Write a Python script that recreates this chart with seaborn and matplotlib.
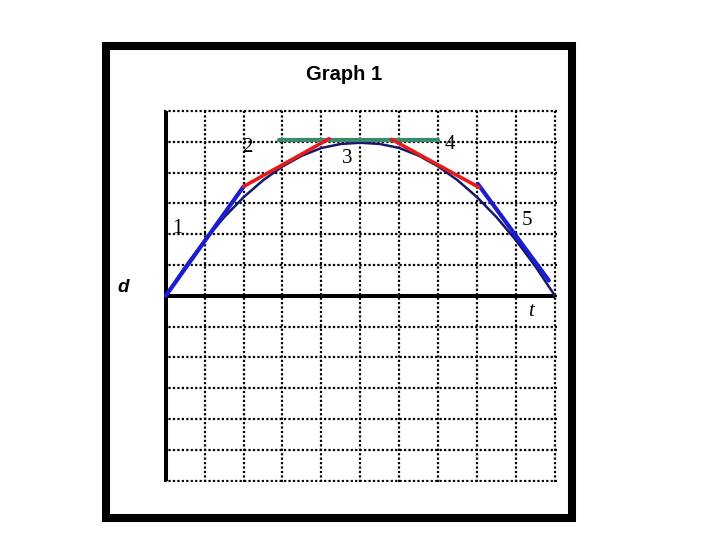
import matplotlib
matplotlib.use("Agg")
import matplotlib.pyplot as plt
import seaborn as sns
from matplotlib.patches import Rectangle

# ---- data ----
curve_t = [0, 0.5, 1, 1.5, 2, 2.5, 3, 3.5, 4, 4.5, 5, 5.5, 6, 6.5, 7, 7.5, 8, 8.5, 9, 9.5, 10]
curve_d = [0, 0.95, 1.8, 2.55, 3.2, 3.75, 4.2, 4.55, 4.8, 4.93, 4.97, 4.93, 4.8, 4.55, 4.2, 3.75, 3.2, 2.55, 1.8, 0.95, 0]

seg1_t = [0, 2.0]
seg1_d = [0, 3.55]
seg2_t = [2.0, 4.2]
seg2_d = [3.55, 5.1]
seg3_t = [2.9, 7.0]
seg3_d = [5.05, 5.05]
seg4_t = [5.8, 8.05]
seg4_d = [5.08, 3.52]
seg5_t = [8.02, 9.84]
seg5_d = [3.63, 0.5]

seg_labels = ["1", "2", "3", "4", "5"]
label_t = [0.3, 2.1, 4.65, 7.3, 9.28]
label_d = [2.2, 4.8, 4.47, 4.92, 2.45]

t_range = [0, 10]
d_range = [-6, 6]
grid_t = list(range(0, 11))
grid_d = list(range(-6, 7))

# ---- styling ----
sns.set_style("white")
plt.rcParams['font.family'] = ['Liberation Sans', 'DejaVu Sans']
plt.rcParams['text.color'] = 'black'

fig = plt.figure(figsize=(7.2, 5.4), dpi=100)
fig.patch.set_facecolor("white")

# outer black frame
fig.patches.append(Rectangle((106 / 720, 1 - 518 / 540), (572 - 106) / 720, (518 - 46) / 540,
                             transform=fig.transFigure, fill=False, edgecolor="black",
                             linewidth=5.8, zorder=0))

px_t = 38.93   # pixels per t unit
px_d = 30.81   # pixels per d unit
pad_t, pad_d = 0.04, 0.05
left_px = 165.7 - pad_t * px_t
right_px = 555.0 + pad_t * px_t
top_px = 111.0 - pad_d * px_d
bot_px = 480.7 + pad_d * px_d
ax = fig.add_axes([left_px / 720, 1 - bot_px / 540, (right_px - left_px) / 720, (bot_px - top_px) / 540])
ax.set_xlim(t_range[0] - pad_t, t_range[1] + pad_t)
ax.set_ylim(d_range[0] - pad_d, d_range[1] + pad_d)
for s in ax.spines.values():
    s.set_visible(False)
ax.set_xticks(grid_t)
ax.set_yticks(grid_d)
ax.tick_params(length=0, labelbottom=False, labelleft=False)
ax.grid(True, color="black", linestyle=(0, (1, 1)), linewidth=1.6)
ax.set_axisbelow(True)

# main axes lines
ax.plot([t_range[0], t_range[0]], d_range, color="black", linewidth=2.9, solid_capstyle="butt", zorder=2)
ax.plot(t_range, [0, 0], color="black", linewidth=2.9, solid_capstyle="butt", zorder=2)

# curve
sns.lineplot(x=curve_t, y=curve_d, ax=ax, color="#16166a", linewidth=1.8, sort=False,
             estimator=None, zorder=3)

# secant / tangent segments
sns.lineplot(x=seg1_t, y=seg1_d, ax=ax, color="#1c1cd2", linewidth=3.0, sort=False, estimator=None, zorder=4)
sns.lineplot(x=seg5_t, y=seg5_d, ax=ax, color="#1c1cd2", linewidth=3.0, sort=False, estimator=None, zorder=4)
sns.lineplot(x=seg2_t, y=seg2_d, ax=ax, color="#e41c1c", linewidth=2.6, sort=False, estimator=None, zorder=5)
sns.lineplot(x=seg4_t, y=seg4_d, ax=ax, color="#e41c1c", linewidth=2.6, sort=False, estimator=None, zorder=5)
sns.lineplot(x=seg3_t, y=seg3_d, ax=ax, color="#3b8a6c", linewidth=3.0, sort=False, estimator=None, zorder=4)

# segment labels
for lab, tx, dy in zip(seg_labels, label_t, label_d):
    ax.text(tx, dy, lab, fontsize=15, family=["Liberation Serif", "DejaVu Serif"], color="black",
            ha="center", va="center", zorder=6)

ax.text(9.37, -0.5, "t", fontsize=15, style="italic", family=["Liberation Serif", "DejaVu Serif"],
        color="black", ha="center", va="center")
ax.text(-1.08, 0.28, "d", fontsize=13.5, style="italic", fontweight="bold", color="black",
        ha="center", va="center")

fig.text(344 / 720, 1 - 75 / 540, "Graph 1", fontsize=14.5, fontweight="bold", color="black",
         ha="center", va="center")

fig.savefig("out.png", dpi=100)
